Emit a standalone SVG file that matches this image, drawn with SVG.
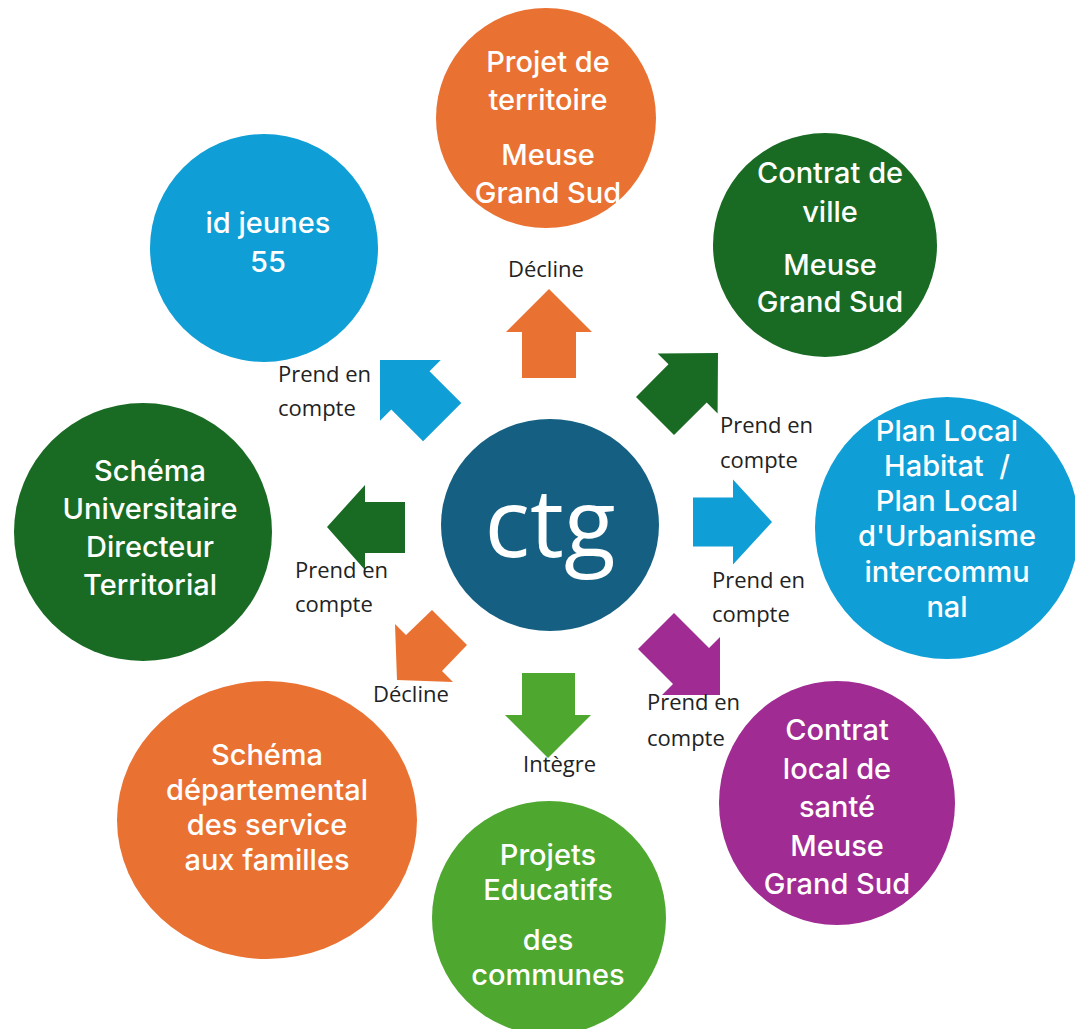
<svg xmlns="http://www.w3.org/2000/svg" width="1075" height="1029" viewBox="0 0 1075 1029">
<style>
.orange{fill:#E97132}.lblue{fill:#0F9ED5}.dgreen{fill:#196B24}.purple{fill:#A02B93}.green{fill:#4EA72E}.navy{fill:#156082}
.nt{font-family:Inter,"Liberation Sans",sans-serif;font-weight:500;font-size:29px;fill:#fff;text-anchor:middle}
.lb{font-family:"Open Sans","Liberation Sans",sans-serif;font-size:22px;fill:#222}
.ctg{font-family:"Open Sans","Liberation Sans",sans-serif;font-size:95px;fill:#fff;text-anchor:middle}
</style>
<rect width="1075" height="1029" fill="#fff"/>
<g id="connectors">
<polygon class="orange" points="549,289 592,332 576,332 576,378 522,378 522,332 506,332"/>
<polygon class="dgreen" points="718,353 717.6,413.4 706.7,402.5 674,435 636,397 668.5,364.3 657.6,353.4"/>
<polygon class="lblue" points="772,522 733,564.5 733,546.5 693,546.5 693,497.5 733,497.5 733,479.5"/>
<polygon class="purple" points="720,695 720,637 709,648 674,613 638,649 673,684 662,695"/>
<polygon class="green" points="548,758 591,715 575,715 575,673 522,673 522,715 505,715"/>
<polygon class="orange" points="397,680 395,624 406,635 432,610 467,645 442,671 453,682"/>
<polygon class="dgreen" points="327,527 365,485 365,502 405,502 405,553 365,553 365,570"/>
<polygon class="lblue" points="380,360 440.8,360 429.5,371.3 461.3,403.1 423.1,441.3 391.3,409.5 380,420.8"/>
<text class="lb" x="508" y="277">Décline</text>
<text class="lb" x="720" y="433">Prend en</text><text class="lb" x="720" y="468">compte</text>
<text class="lb" x="712" y="588">Prend en</text><text class="lb" x="712" y="622">compte</text>
<text class="lb" x="647" y="710">Prend en</text><text class="lb" x="647" y="746">compte</text>
<text class="lb" x="523" y="772">Intègre</text>
<text class="lb" x="373" y="702">Décline</text>
<text class="lb" x="295" y="578">Prend en</text><text class="lb" x="295" y="612">compte</text>
<text class="lb" x="278" y="382">Prend en</text><text class="lb" x="278" y="416">compte</text>
</g>
<g id="ctg">
<ellipse class="navy" cx="550" cy="525" rx="109" ry="106"/>
<text class="ctg" x="550" y="557">ctg</text>
</g>
<g id="projet-territoire">
<circle class="orange" cx="546" cy="118" r="110"/>
<text class="nt" x="548" y="72">Projet de</text>
<text class="nt" x="548" y="110">territoire</text>
<text class="nt" x="548" y="165">Meuse</text>
<text class="nt" x="548" y="203">Grand Sud</text>
</g>
<g id="id-jeunes">
<circle class="lblue" cx="264" cy="248" r="114"/>
<text class="nt" x="268" y="233">id jeunes</text>
<text class="nt" x="268" y="272">55</text>
</g>
<g id="contrat-ville">
<circle class="dgreen" cx="825" cy="245" r="112"/>
<text class="nt" x="830" y="183">Contrat de</text>
<text class="nt" x="830" y="222">ville</text>
<text class="nt" x="830" y="275">Meuse</text>
<text class="nt" x="830" y="312">Grand Sud</text>
</g>
<g id="plan-local">
<ellipse class="lblue" cx="947" cy="528" rx="132" ry="131"/>
<text class="nt" x="947" y="441">Plan Local</text>
<text class="nt" x="947" y="476" xml:space="preserve">Habitat  /</text>
<text class="nt" x="947" y="511">Plan Local</text>
<text class="nt" x="947" y="546">d'Urbanisme</text>
<text class="nt" x="947" y="582">intercommu</text>
<text class="nt" x="947" y="617">nal</text>
</g>
<g id="schema-universitaire">
<circle class="dgreen" cx="143" cy="532" r="129"/>
<text class="nt" x="150" y="481">Schéma</text>
<text class="nt" x="150" y="519">Universitaire</text>
<text class="nt" x="150" y="557">Directeur</text>
<text class="nt" x="150" y="595">Territorial</text>
</g>
<g id="contrat-local-sante">
<ellipse class="purple" cx="837" cy="803" rx="118" ry="122"/>
<text class="nt" x="837" y="740">Contrat</text>
<text class="nt" x="837" y="779">local de</text>
<text class="nt" x="837" y="817">santé</text>
<text class="nt" x="837" y="856">Meuse</text>
<text class="nt" x="837" y="894">Grand Sud</text>
</g>
<g id="schema-departemental">
<ellipse class="orange" cx="267" cy="820" rx="150" ry="139"/>
<text class="nt" x="267" y="765">Schéma</text>
<text class="nt" x="267" y="800">départemental</text>
<text class="nt" x="267" y="835">des service</text>
<text class="nt" x="267" y="870">aux familles</text>
</g>
<g id="projets-educatifs">
<ellipse class="green" cx="549" cy="918" rx="117" ry="117"/>
<text class="nt" x="548" y="865">Projets</text>
<text class="nt" x="548" y="900">Educatifs</text>
<text class="nt" x="548" y="950">des</text>
<text class="nt" x="548" y="985">communes</text>
</g>
</svg>
